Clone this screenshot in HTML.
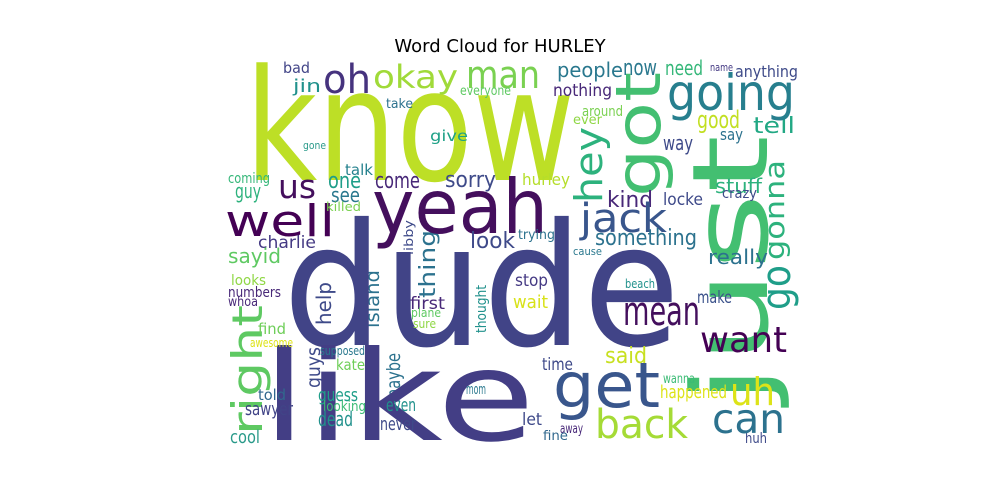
<!DOCTYPE html>
<html><head><meta charset="utf-8"><style>
html,body{margin:0;padding:0;background:#fff;}
svg{display:block;}
text{font-family:"DejaVu Sans","Liberation Sans",sans-serif;}
</style></head><body>
<svg id="cloud" width="1000" height="500" viewBox="0 0 1000 500" xmlns="http://www.w3.org/2000/svg">
<rect width="1000" height="500" fill="#fff"/>
<text x="500" y="52" text-anchor="middle" font-size="18" fill="#000">Word Cloud for HURLEY</text>
<g id="words"></g>
</svg>
<script>
// horizontal words: word, font size (weight), color
const hWords = ["know","yeah","dude","like","well","us","bad","oh","okay","man","jin","everyone","take","give","gone","talk","coming","one","come","sorry","guy","see","killed","charlie","look","sayid","looks","numbers","whoa","find","awesome","supposed","kate","told","guess","sawyer","looking","dead","even","never","cool","first","plane","sure","mom","people","now","need","name","anything","nothing","around","ever","good","tell","say","way","hurley","stuff","crazy","kind","locke","jack","something","trying","cause","going","really","stop","beach","wait","make","said","time","wanna","happened","let","away","fine","huh","mean","want","get","back","can","uh"];
const hSizes = [155,75,170,125,44,33,15,40,32,38,18,13,13,15,11,15,14,22,22,22,20,20,12,17,22,20,14,14,13,15,12,12,15,15,18,18,14,20,18,18,18,17,12,12,14,20,22,20,11,16,17,14,13,24,22,16,20,16,20,14,22,17,40,22,13,11,50,20,17,12,18,17,22,17,13,18,17,13,13,14,40,36,62,40,41,38];
const hColors = ["#bddf26","#440f5d","#414487","#433e85","#440154","#440f5d","#414487","#46337e","#a0da39","#7ad151","#21918c","#5ec962","#2c728e","#1fa187","#2a9a8a","#26828e","#35b779","#1f9e89","#482878","#3e4a89","#2db27d","#2a788e","#7ad151","#443983","#3e4989","#5ec962","#8fd744","#482878","#482878","#6ece58","#dde318","#2a788e","#6ece58","#31688e","#1f9e89","#414487","#3bbb75","#21918c","#21918c","#3e4a89","#2a9a8a","#482878","#5ec962","#8fd744","#2a788e","#2a788e","#2a788e","#35b779","#443983","#3e4a89","#482878","#7ad151","#8fd744","#c2df23","#22a884","#2c728e","#3e4a89","#b5de2b","#2db27d","#3e4a89","#482878","#3e4989","#39568c","#2c728e","#2c728e","#2a788e","#277f8e","#2c728e","#443983","#21918c","#d8e219","#3b528b","#c8e020","#3e4989","#3bbb75","#dde318","#3e4989","#482878","#31688e","#3e4a89","#440f5d","#440154","#39568c","#a5db36","#2c728e","#dde318"];
// layout: left x, right x, baseline y
const hLayout = [[245,575,180],[372,548,233],[283,680,345],[262,535,440],[225,335,236],[278,316,198],[283,310,73],[323,371,93],[373,458,88],[466,540,88],[293,321,92],[460,511,95],[386,413,108],[430,468,141],[303,326,149],[345,373,175],[228,270,183],[328,361,188],[375,420,188],[445,496,187],[235,261,198],[331,360,202],[326,361,211],[258,316,248],[470,515,248],[228,281,263],[231,266,285],[228,281,297],[228,258,306],[258,286,334],[250,293,347],[320,365,355],[336,365,370],[258,286,400],[318,358,401],[245,293,415],[323,366,411],[318,353,426],[386,416,411],[380,416,430],[230,260,443],[410,445,309],[411,441,317],[413,436,328],[466,486,394],[557,623,77],[623,657,75],[665,703,75],[710,733,71],[735,798,77],[553,612,96],[582,623,116],[573,602,124],[697,740,128],[753,795,133],[720,743,140],[663,693,150],[522,570,185],[715,762,193],[722,757,198],[607,653,207],[663,703,205],[580,667,232],[595,697,245],[518,555,239],[573,602,255],[667,795,110],[708,768,264],[515,548,286],[625,655,288],[513,548,308],[697,732,303],[605,647,363],[542,573,370],[663,695,383],[660,727,398],[522,542,425],[560,583,433],[543,568,440],[745,767,443],[623,700,325],[700,787,352],[553,660,407],[595,688,438],[712,785,433],[730,775,405]];
// rotated words (read bottom to top)
const vWords = ["just","got","hey","gonna","go","right","help","island","thing","guys","maybe","thought","libby"];
const vSizes = [105,62,38,28,40,42,20,19,22,19,19,14,12];
const vColors = ["#43bf71","#43bf71","#2db27d","#2db27d","#1f9e89","#5ec962","#3e4a89","#2c728e","#2c728e","#3e4a89","#2c728e","#21918c","#3e4a89"];
// layout: baseline x, bottom y, top y
const vLayout = [[767,405,135],[660,197,72],[602,203,127],[784,260,160],[790,310,265],[262,435,305],[331,325,282],[379,328,270],[435,298,230],[320,388,347],[400,403,353],[486,333,285],[413,255,220]];

const g = document.getElementById('words');
const NS = 'http://www.w3.org/2000/svg';
vWords.forEach((w,i)=>{
  const t = document.createElementNS(NS,'text');
  const L = vLayout[i];
  t.setAttribute('transform', 'translate(' + L[0] + ',' + L[1] + ') rotate(-90)');
  t.setAttribute('x', 0);
  t.setAttribute('y', 0);
  t.setAttribute('font-size', vSizes[i]);
  t.setAttribute('fill', vColors[i]);
  t.setAttribute('textLength', L[1]-L[2]);
  t.setAttribute('lengthAdjust','spacingAndGlyphs');
  
  
  t.textContent = w;
  g.appendChild(t);
});
hWords.forEach((w,i)=>{
  const t = document.createElementNS(NS,'text');
  const L = hLayout[i];
  t.setAttribute('x', L[0]);
  t.setAttribute('y', L[2]);
  t.setAttribute('font-size', hSizes[i]);
  t.setAttribute('fill', hColors[i]);
  t.setAttribute('textLength', L[1]-L[0]);
  t.setAttribute('lengthAdjust','spacingAndGlyphs');
  
  
  t.textContent = w;
  g.appendChild(t);
});
</script>
</body></html>
